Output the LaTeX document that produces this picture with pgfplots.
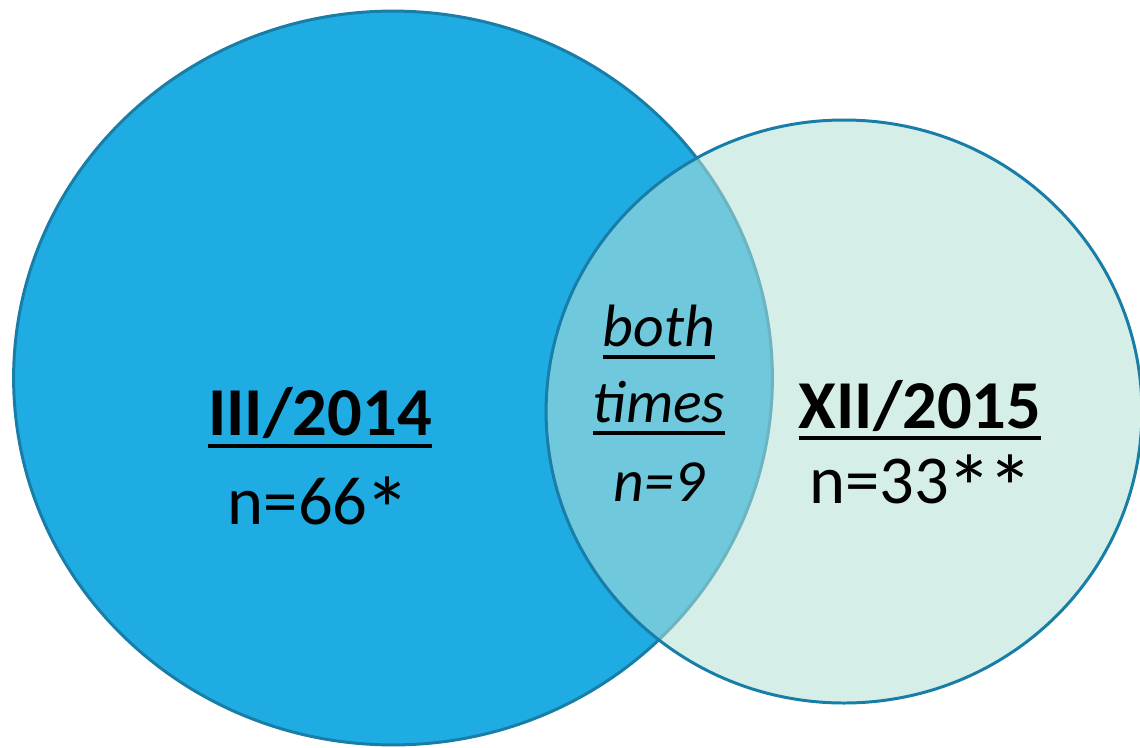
\documentclass[border=0pt]{standalone}
\usepackage{pgfplots}
\pgfplotsset{compat=1.18}
\usepackage{graphicx}
\usepackage{fontspec}
\setmainfont{Carlito}
\definecolor{leftfill}{RGB}{30,172,227}
\definecolor{rightfill}{RGB}{179,224,213}
\definecolor{edge}{RGB}{24,126,168}
% thicker underline, a little lower than \underline
\newcommand\ul[1]{\setbox0\hbox{#1}\rlap{\rule[-3.4pt]{\wd0}{1.15pt}}\box0}
\newcommand\st{\kern-0.04em\raisebox{-0.25em}{\scalebox{1.35}{*}}\kern-0.04em}
\begin{document}
\begin{tikzpicture}
\begin{axis}[
  scale only axis,
  width=11.4cm, height=7.47cm,
  xmin=0, xmax=1140, ymin=0, ymax=747,
  y dir=reverse,
  hide axis,
  clip=false,
]
% left set (III/2014), centre and radius in picture units
\addplot[only marks, mark=*, mark size=104.4pt,
  mark options={xscale=1.034, fill=leftfill, draw=edge, line width=0.85pt}]
  coordinates {(393,378)};
% right set (XII/2015), half transparent so the overlap shows
\addplot[only marks, mark=*, mark size=82.94pt,
  mark options={xscale=1.022, fill=rightfill, fill opacity=0.55, draw=edge, line width=0.85pt}]
  coordinates {(844,411.5)};

% label anchors, used after the axis so the text lies above the marks
\coordinate (l1) at (axis cs:320,436);
\coordinate (l2) at (axis cs:318,525);
\coordinate (r1) at (axis cs:920,428);
\coordinate (r2) at (axis cs:920,503);
\coordinate (m1) at (axis cs:659,347);
\coordinate (m2) at (axis cs:659,423);
\coordinate (m3) at (axis cs:659,501);
\end{axis}
\node[anchor=base] at (l1) {\fontsize{19.5}{24}\selectfont\bfseries\ul{III/2014}};
\node[anchor=base] at (l2) {\fontsize{19.5}{24}\selectfont n=66\st};
\node[anchor=base] at (r1) {\fontsize{19.5}{24}\selectfont\bfseries\ul{XII/2015}};
\node[anchor=base] at (r2) {\fontsize{19.5}{24}\selectfont n=33\st\st};
\node[anchor=base] at (m1) {\fontsize{17}{21}\selectfont\itshape\ul{both}};
\node[anchor=base] at (m2) {\fontsize{17}{21}\selectfont\itshape\ul{times}};
\node[anchor=base] at (m3) {\fontsize{17}{21}\selectfont\itshape n=9};
\pgfresetboundingbox
\useasboundingbox (current axis.south west) rectangle (current axis.north east);
\end{tikzpicture}
\end{document}
